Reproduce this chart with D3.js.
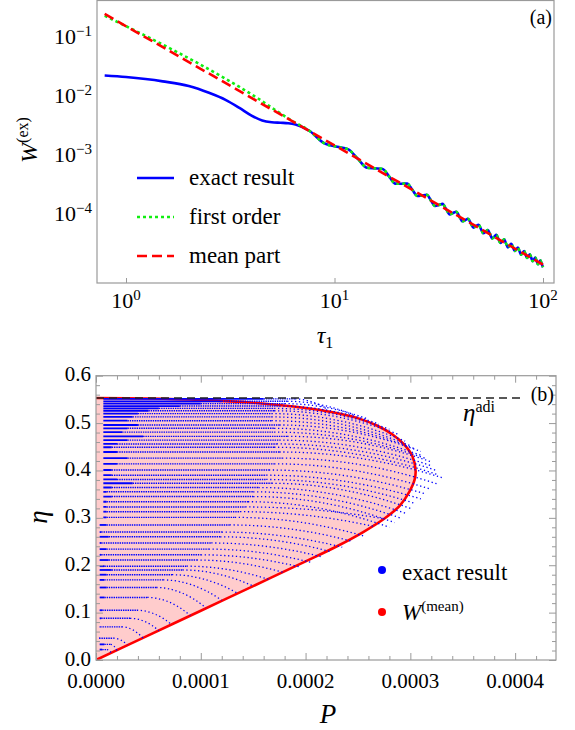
<!DOCTYPE html>
<html>
<head>
<meta charset="utf-8">
<script src="https://cdn.jsdelivr.net/npm/d3@7"></script>
<style>
body { margin: 0; background: #fff; }
svg text { font-family: "Liberation Serif", "Times New Roman", Tinos, "DejaVu Serif", serif; }
</style>
</head>
<body>
<svg id="chart" width="575" height="730"></svg>
<script>
// ---- panel (a) data ----
const tauTicks = [1, 10, 100]
const wTicks = [1e-1, 1e-2, 1e-3, 1e-4]
const tauEarly = [0.79, 1.0, 1.5, 2.0, 2.5, 3.0, 3.5, 4.0, 4.5, 5.0, 5.5, 6.0, 6.5]
const exactEarly = [0.0220, 0.0207, 0.0175, 0.0146, 0.0112, 0.0085, 0.0062, 0.0046, 0.0038, 0.00355, 0.00348, 0.00342, 0.00325]
const tauFirst = [0.79, 1.0, 1.3, 1.7, 2.2, 2.8, 3.5, 4.3, 5.2, 6.2]
const firstEarly = [0.226, 0.151, 0.0951, 0.0584, 0.0359, 0.0223, 0.01406, 0.00896, 0.00572, 0.00383]
// oscillating tail, shared by exact result and first order
const tauOsc = [7.6, 8.9, 10.3, 11.6, 12.9, 14.3, 15.6, 17.0, 18.3, 19.6, 21.0, 22.3, 23.6, 25.0, 26.3, 27.7, 29.0, 30.3, 31.7, 33.0,
  34.3, 35.7, 37.0, 38.4, 39.7, 41.0, 42.4, 43.7, 45.0, 46.4, 47.7, 49.1, 50.4, 51.7, 53.1, 54.4, 55.7, 57.1, 58.4, 59.8,
  61.1, 62.4, 63.8, 65.1, 66.4, 67.8, 69.1, 70.5, 71.8, 73.1, 74.5, 75.8, 77.1, 78.5, 79.8, 81.2, 82.5, 83.8, 85.2, 86.5,
  87.8, 89.2, 90.5, 91.9, 93.2, 94.5, 95.9, 97.2, 98.5, 100]
const wOsc = [2.52e-3, 1.571e-3, 1.359e-3, 1.241e-3, 8.62e-4, 6.03e-4, 5.87e-4, 5.74e-4, 4.25e-4, 3.23e-4,
  3.22e-4, 3.24e-4, 2.545e-4, 1.996e-4, 2.045e-4, 2.09e-4, 1.679e-4, 1.354e-4, 1.402e-4, 1.467e-4,
  1.196e-4, 9.72e-5, 1.026e-4, 1.081e-4, 8.90e-5, 7.43e-5, 7.79e-5, 8.23e-5, 6.91e-5, 5.79e-5,
  6.14e-5, 6.50e-5, 5.50e-5, 4.65e-5, 4.95e-5, 5.29e-5, 4.49e-5, 3.81e-5, 4.08e-5, 4.37e-5,
  3.73e-5, 3.18e-5, 3.42e-5, 3.68e-5, 3.15e-5, 2.69e-5, 2.91e-5, 3.09e-5, 2.69e-5, 2.34e-5,
  2.50e-5, 2.67e-5, 2.33e-5, 2.02e-5, 2.17e-5, 2.33e-5, 2.03e-5, 1.775e-5, 1.904e-5, 2.05e-5,
  1.79e-5, 1.564e-5, 1.685e-5, 1.812e-5, 1.588e-5, 1.392e-5, 1.499e-5, 1.618e-5, 1.42e-5, 1.242e-5]
const tauMean = [0.79, 1, 10, 100]
const wMean = [0.243, 0.151, 0.00144, 1.37e-5]
const legendA = ["exact result", "first order", "mean part"]

// ---- panel (b) data ----
const pTicks = [0, 0.0001, 0.0002, 0.0003, 0.0004]
const etaTicks = [0, 0.1, 0.2, 0.3, 0.4, 0.5, 0.6]
const etaAdi = 0.553
// W(mean) boundary, P and eta
const boundP = [0, 0.00005, 0.0001, 0.00015, 0.0002, 0.00023, 0.000255, 0.000275, 0.00029, 0.000299, 0.000304, 0.000305,
  0.000302, 0.000294, 0.000283, 0.000268, 0.000249, 0.000226, 0.0002, 0.00015, 0.0001, 0.00005, 0]
const boundEta = [0, 0.052, 0.104, 0.156, 0.208, 0.240, 0.270, 0.298, 0.326, 0.355, 0.380, 0.400,
  0.430, 0.455, 0.476, 0.495, 0.511, 0.523, 0.532, 0.543, 0.549, 0.552, 0.553]
// exact result: rows of dots (P in units of 1e-4)
const rowEta = [0.551, 0.546, 0.541, 0.536, 0.531, 0.526, 0.520, 0.513, 0.505, 0.496, 0.489, 0.481, 0.472, 0.464, 0.456,
  0.449, 0.439, 0.426, 0.414, 0.401, 0.390, 0.381, 0.373, 0.364, 0.355, 0.345, 0.334, 0.323, 0.313, 0.301,
  0.285, 0.270, 0.260, 0.247, 0.234, 0.222, 0.211, 0.198, 0.190, 0.180, 0.169, 0.153, 0.132, 0.105, 0.088,
  0.070, 0.046, 0.033, 0.022]
const rowSolid = [1.6, 1.2, 1.0, 0.8, 0.6, 0.5, 0.4, 0.35, 0.3, 0.4, 0.3, 0.25, 0.45, 0.3, 0.2,
  0.15, 0.2, 0.3, 0.2, 0.15, 0.15, 0.2, 0.35, 0.15, 0.1, 0.15, 0.1, 0.1, 0.1, 0.1,
  0.1, 0.05, 0.12, 0.05, 0.1, 0.05, 0.12, 0.08, 0.15, 0.1, 0.08, 0.1, 0.08, 0.06, 0.05,
  0.04, 0.03, 0.08, 0.06]
const rowEnd = [2.2, 2.45, 2.6, 2.7, 2.8, 2.9, 2.95, 3.0, 3.05, 3.1, 3.1, 3.15, 3.2, 3.2, 3.25,
  3.25, 3.3, 3.25, 3.2, 3.15, 3.1, 3.05, 3.0, 2.95, 2.9, 2.85, 2.8, 2.75, 2.65, 2.55,
  2.45, 2.35, 2.25, 2.15, 2.05, 1.95, 1.8, 1.65, 1.5, 1.35, 1.2, 1.05, 0.9, 0.72, 0.6,
  0.45, 0.3, 0.2, 0.15]
const rowEtaEnd = [0.530, 0.518, 0.508, 0.498, 0.487, 0.475, 0.462, 0.452, 0.445, 0.440, 0.432, 0.425, 0.418, 0.410, 0.400,
  0.392, 0.385, 0.372, 0.360, 0.350, 0.340, 0.330, 0.320, 0.310, 0.300, 0.290, 0.280, 0.298, 0.282, 0.262,
  0.250, 0.238, 0.228, 0.218, 0.206, 0.196, 0.184, 0.170, 0.156, 0.141, 0.126, 0.110, 0.094, 0.075, 0.062,
  0.046, 0.032, 0.020, 0.013]

const svg = d3.select("#chart")
const frameColor = "#9a9a9a"

// ================= panel (a) =================
const A = {l: 97, r: 554, t: 0.5, b: 283}
const x1 = d3.scaleLog().domain([0.7259, 112.9]).range([A.l, A.r])
const y1 = d3.scaleLog().domain([6.69e-6, 0.411]).range([A.b, A.t])

svg.append("clipPath").attr("id", "clipA")
  .append("rect").attr("x", A.l).attr("y", A.t).attr("width", A.r - A.l).attr("height", A.b - A.t)

const line1 = d3.line().x(d => x1(d[0])).y(d => y1(d[1])).curve(d3.curveMonotoneX)
const exactPts = tauEarly.map((t, i) => [t, exactEarly[i]]).concat(tauOsc.map((t, i) => [t, wOsc[i]]))
const firstPts = tauFirst.map((t, i) => [t, firstEarly[i]]).concat(tauOsc.map((t, i) => [t, wOsc[i]]))
const meanPts = tauMean.map((t, i) => [t, wMean[i]])

const gA = svg.append("g").attr("clip-path", "url(#clipA)")
gA.append("path").attr("d", line1(exactPts)).attr("fill", "none")
  .attr("stroke", "#0000ff").attr("stroke-width", 2.6)
gA.append("path").attr("d", line1(firstPts)).attr("fill", "none")
  .attr("stroke", "#11ee11").attr("stroke-width", 2.6).attr("stroke-dasharray", "3 3")
gA.append("path").attr("d", line1(meanPts)).attr("fill", "none")
  .attr("stroke", "#ff0000").attr("stroke-width", 2.6).attr("stroke-dasharray", "10 5")

svg.append("rect").attr("x", A.l).attr("y", A.t).attr("width", A.r - A.l).attr("height", A.b - A.t)
  .attr("fill", "none").attr("stroke", frameColor).attr("stroke-width", 1.2)

svg.append("g").attr("transform", "translate(0," + A.b + ")")
  .call(d3.axisBottom(x1).tickValues(tauTicks).tickSize(-5).tickFormat(""))
  .call(g => g.select(".domain").remove())
  .call(g => g.selectAll("line").attr("stroke", frameColor))

// tick labels with superscripts
tauTicks.forEach(t => {
  const tx = svg.append("text").attr("x", x1(t)).attr("y", 308).attr("text-anchor", "middle")
    .attr("font-size", 22)
  tx.append("tspan").text("10")
  tx.append("tspan").attr("font-size", 15).attr("dy", -8).text(Math.round(Math.log10(t)))
})
wTicks.forEach(w => {
  const ty = svg.append("text").attr("x", 92).attr("y", y1(w) + 7.5).attr("text-anchor", "end")
    .attr("font-size", 22)
  ty.append("tspan").text("10")
  ty.append("tspan").attr("font-size", 15).attr("dy", -8).text("\u2212" + Math.round(-Math.log10(w)))
})

// axis labels
const wl = svg.append("text").attr("transform", "translate(37,140) rotate(-90)")
  .attr("text-anchor", "middle").attr("font-size", 24)
wl.append("tspan").attr("font-style", "italic").text("W")
wl.append("tspan").attr("font-size", 16).attr("dy", -9).text("(ex)")

const tl = svg.append("text").attr("x", 325).attr("y", 343).attr("text-anchor", "middle").attr("font-size", 24)
tl.append("tspan").attr("font-style", "italic").text("\u03c4")
tl.append("tspan").attr("font-size", 16).attr("dy", 5).text("1")

svg.append("text").attr("x", 552).attr("y", 24).attr("text-anchor", "end").attr("font-size", 20).text("(a)")

// legend (a)
const legY = [178, 217, 256]
const legStyle = [
  {c: "#0000ff", d: null},
  {c: "#11ee11", d: "3 3"},
  {c: "#ff0000", d: "10 5"}
]
legendA.forEach((name, i) => {
  svg.append("line").attr("x1", 137).attr("x2", 174).attr("y1", legY[i]).attr("y2", legY[i])
    .attr("stroke", legStyle[i].c).attr("stroke-width", 2.6)
    .attr("stroke-dasharray", legStyle[i].d)
  svg.append("text").attr("x", 189).attr("y", legY[i] + 7).attr("font-size", 23).text(name)
})

// ================= panel (b) =================
const B = {l: 96, r: 556, t: 375.7, b: 660}
const x2 = d3.scaleLinear().domain([0, 0.000439]).range([B.l, B.r])
const y2 = d3.scaleLinear().domain([0, 0.6]).range([B.b, B.t])

svg.append("clipPath").attr("id", "clipB")
  .append("rect").attr("x", B.l).attr("y", B.t).attr("width", B.r - B.l).attr("height", B.b - B.t)
const gB = svg.append("g").attr("clip-path", "url(#clipB)")

const boundPts = boundP.map((p, i) => [p, boundEta[i]])
const bline = d3.line().x(d => x2(d[0])).y(d => y2(d[1])).curve(d3.curveCatmullRom.alpha(0.5))

// pink region and red W(mean) curve
gB.append("path").attr("d", bline(boundPts) + "Z").attr("fill", "#ffcccc").attr("stroke", "none")
gB.append("path").attr("d", bline(boundPts)).attr("fill", "none")
  .attr("stroke", "#ff0000").attr("stroke-width", 2.6)

// exact result dots
const rows = gB.append("g").attr("fill", "none").attr("stroke", "#0000ff")
rowEta.forEach((e, i) => {
  const p0 = (e >= 0.3 ? 0.07 : 0.035) * 1e-4
  const ps = rowSolid[i] * 1e-4
  const pe = rowEnd[i] * 1e-4
  const pm = ps + 0.5 * (pe - ps)
  rows.append("line").attr("x1", x2(p0)).attr("x2", x2(ps)).attr("y1", y2(e)).attr("y2", y2(e))
    .attr("stroke-width", 1.8)
  rows.append("line").attr("x1", x2(ps)).attr("x2", x2(pm)).attr("y1", y2(e)).attr("y2", y2(e))
    .attr("stroke-width", 1.4).attr("stroke-dasharray", "1.4 0.9")
  const p = d3.path()
  p.moveTo(x2(pm), y2(e))
  p.quadraticCurveTo(x2((pm + pe) / 2), y2(e), x2(pe), y2(rowEtaEnd[i]))
  rows.append("path").attr("d", p.toString())
    .attr("stroke-width", 1.3).attr("stroke-dasharray", "1.3 2.6")
})

// eta adiabatic dashed line
gB.append("line").attr("x1", x2(0)).attr("x2", x2(0.000409)).attr("y1", y2(etaAdi)).attr("y2", y2(etaAdi))
  .attr("stroke", "#222").attr("stroke-width", 1.5).attr("stroke-dasharray", "8 5")

svg.append("rect").attr("x", B.l).attr("y", B.t).attr("width", B.r - B.l).attr("height", B.b - B.t)
  .attr("fill", "none").attr("stroke", frameColor).attr("stroke-width", 1.2)

// ticks on all four sides
const pMinor = d3.range(0, 0.00044, 0.00002).filter(v => Math.abs(v / 0.0001 - Math.round(v / 0.0001)) > 1e-6)
const etaMinor = d3.range(0, 0.6, 0.02).filter(v => Math.abs(v * 10 - Math.round(v * 10)) > 1e-6)
const tickStyle = g => { g.select(".domain").remove(); g.selectAll("line").attr("stroke", frameColor) }
svg.append("g").attr("transform", "translate(0," + B.b + ")")
  .call(d3.axisBottom(x2).tickValues(pTicks).tickSize(-7).tickFormat("")).call(tickStyle)
svg.append("g").attr("transform", "translate(0," + B.b + ")")
  .call(d3.axisBottom(x2).tickValues(pMinor).tickSize(-4).tickFormat("")).call(tickStyle)
svg.append("g").attr("transform", "translate(0," + B.t + ")")
  .call(d3.axisTop(x2).tickValues(pTicks).tickSize(-7).tickFormat("")).call(tickStyle)
svg.append("g").attr("transform", "translate(0," + B.t + ")")
  .call(d3.axisTop(x2).tickValues(pMinor).tickSize(-4).tickFormat("")).call(tickStyle)
svg.append("g").attr("transform", "translate(" + B.l + ",0)")
  .call(d3.axisLeft(y2).tickValues(etaTicks).tickSize(-7).tickFormat("")).call(tickStyle)
svg.append("g").attr("transform", "translate(" + B.l + ",0)")
  .call(d3.axisLeft(y2).tickValues(etaMinor).tickSize(-4).tickFormat("")).call(tickStyle)
svg.append("g").attr("transform", "translate(" + B.r + ",0)")
  .call(d3.axisRight(y2).tickValues(etaTicks).tickSize(-7).tickFormat("")).call(tickStyle)
svg.append("g").attr("transform", "translate(" + B.r + ",0)")
  .call(d3.axisRight(y2).tickValues(etaMinor).tickSize(-4).tickFormat("")).call(tickStyle)

pTicks.forEach(p => {
  svg.append("text").attr("x", x2(p)).attr("y", 688).attr("text-anchor", "middle")
    .attr("font-size", 21).text(d3.format(".4f")(p))
})
etaTicks.forEach(e => {
  svg.append("text").attr("x", 91).attr("y", y2(e) + 5.5).attr("text-anchor", "end")
    .attr("font-size", 21).text(d3.format(".1f")(e))
})

svg.append("text").attr("transform", "translate(47,517) rotate(-90)").attr("text-anchor", "middle")
  .attr("font-size", 27).attr("font-style", "italic").text("\u03b7")
svg.append("text").attr("x", 328).attr("y", 723).attr("text-anchor", "middle")
  .attr("font-size", 27).attr("font-style", "italic").text("P")

svg.append("text").attr("x", 554).attr("y", 401).attr("text-anchor", "end").attr("font-size", 20).text("(b)")
const ea = svg.append("text").attr("x", 463).attr("y", 421).attr("font-size", 25)
ea.append("tspan").attr("font-style", "italic").text("\u03b7")
ea.append("tspan").attr("font-size", 16).attr("dy", -9).text("adi")

// legend (b)
svg.append("circle").attr("cx", 382).attr("cy", 570).attr("r", 4).attr("fill", "#0000ff")
svg.append("text").attr("x", 402).attr("y", 580).attr("font-size", 23).text("exact result")
svg.append("circle").attr("cx", 382).attr("cy", 612).attr("r", 4).attr("fill", "#ff0000")
const lm = svg.append("text").attr("x", 402).attr("y", 620).attr("font-size", 23)
lm.append("tspan").attr("font-style", "italic").text("W")
lm.append("tspan").attr("font-size", 15).attr("dy", -9).text("(mean)")
</script>
</body>
</html>
